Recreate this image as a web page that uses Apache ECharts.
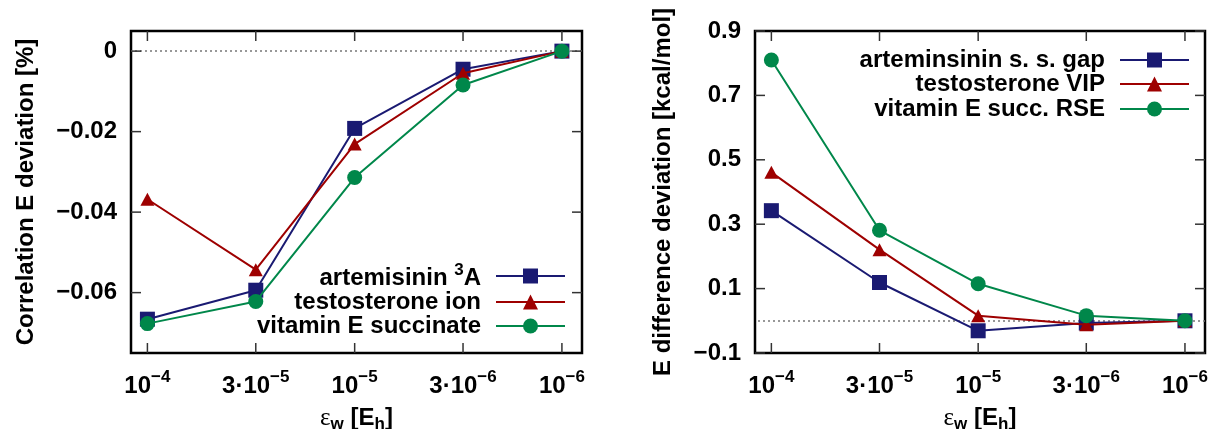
<!DOCTYPE html>
<html>
<head>
<meta charset="utf-8">
<script src="https://cdn.jsdelivr.net/npm/echarts@6/dist/echarts.min.js"></script>
<style>
html,body{margin:0;padding:0;background:#fff;}
#c{width:1209px;height:429px;}
</style>
</head>
<body>
<div id="c"></div>
<script>
// ---- data ----
const eps = [1e-4, 3e-5, 1e-5, 3e-6, 1e-6];
const xTickBase = ['10', '3\u00b710', '10', '3\u00b710', '10'];
const xTickExp = ['\u22124', '\u22125', '\u22125', '\u22126', '\u22126'];

const leftYTicks = [0, -0.02, -0.04, -0.06];
const leftYLabels = ['0', '\u22120.02', '\u22120.04', '\u22120.06'];
const rightYTicks = [-0.1, 0.1, 0.3, 0.5, 0.7, 0.9];
const rightYLabels = ['\u22120.1', '0.1', '0.3', '0.5', '0.7', '0.9'];

const leftNames = ['artemisinin 3A', 'testosterone ion', 'vitamin E succinate'];
const leftArtemisinin = [-0.0666, -0.0594, -0.0192, -0.0045, 0];
const leftTestosterone = [-0.0368, -0.0543, -0.0231, -0.0055, 0];
const leftVitamin = [-0.0677, -0.0622, -0.0314, -0.0084, 0];

const rightNames = ['arteminsinin s. s. gap', 'testosterone VIP', 'vitamin E succ. RSE'];
const rightArtemisinin = [0.342, 0.119, -0.031, -0.007, 0];
const rightTestosterone = [0.461, 0.221, 0.016, -0.012, 0];
const rightVitamin = [0.81, 0.281, 0.115, 0.016, 0];

const leftYTitle = 'Correlation E deviation [%]';
const rightYTitle = 'E difference deviation [kcal/mol]';

// ---- styling ----
const FONT = "'Liberation Sans', Arial, Helvetica, sans-serif";
const colors = ['#1a1a72', '#9e0000', '#00874a'];
const symbols = ['rect', 'triangle', 'circle'];
const symSizes = [15, [14, 13], 15];
const TICK_LEN = 10;
const TICK_STYLE = { stroke: '#333', lineWidth: 1.5 };

function xLabel(v) {
  const lv = Math.log10(v);
  for (let i = 0; i < eps.length; i++) {
    if (Math.abs(Math.log10(eps[i]) - lv) < 0.01) return '{b|' + xTickBase[i] + '}{s|' + xTickExp[i] + '}';
  }
  return '';
}
function yLabelFn(ticks, labels) {
  return function (v) {
    for (let i = 0; i < ticks.length; i++) if (Math.abs(ticks[i] - v) < 1e-9) return labels[i];
    return '';
  };
}

const xRich = {
  b: { fontFamily: FONT, fontWeight: 'bold', fontSize: 24, color: '#000', verticalAlign: 'bottom' },
  s: { fontFamily: FONT, fontWeight: 'bold', fontSize: 17, color: '#000', verticalAlign: 'bottom', padding: [0, 0, 12, 0] }
};
const titleRich = {
  e: { fontFamily: "'Liberation Serif', 'DejaVu Serif', serif", fontSize: 25, color: '#000', verticalAlign: 'top' },
  t: { fontFamily: FONT, fontWeight: 'bold', fontSize: 24, color: '#000', verticalAlign: 'top' },
  u: { fontFamily: FONT, fontWeight: 'bold', fontSize: 17, color: '#000', verticalAlign: 'top', padding: [10, 0, 0, 0] }
};
const xTitle = '{e|\u03b5}{u|w}{t| [E}{u|h}{t|]}';

function xAxis(grid) {
  return {
    type: 'log', gridIndex: grid, min: 8e-7, max: 1.2e-4, inverse: true, position: 'bottom',
    axisLine: { show: false, onZero: false }, splitLine: { show: false }, minorTick: { show: false },
    axisTick: { show: false },
    name: xTitle, nameLocation: 'middle', nameGap: 53,
    nameTextStyle: { rich: titleRich },
    axisLabel: { show: true, customValues: eps, margin: 16, formatter: xLabel, rich: xRich }
  };
}
function yAxis(grid, min, max, ticks, labels, title, gap) {
  return {
    type: 'value', gridIndex: grid, min: min, max: max, position: 'left',
    axisLine: { show: false, onZero: false }, splitLine: { show: false }, axisTick: { show: false },
    name: title, nameLocation: 'middle', nameGap: gap,
    nameTextStyle: { fontFamily: FONT, fontWeight: 'bold', fontSize: 24, color: '#000' },
    axisLabel: { show: true, customValues: ticks, margin: 14, formatter: yLabelFn(ticks, labels),
      fontFamily: FONT, fontWeight: 'bold', fontSize: 24, color: '#000' }
  };
}

// tick marks on all four frame sides, positioned via the axes' own coord()
function tickSeries(axisIdx, dir, values) {
  return {
    type: 'custom', xAxisIndex: axisIdx, yAxisIndex: axisIdx, silent: true, clip: false, z: 10,
    animation: false, tooltip: { show: false },
    data: dir === 'y' ? values.map(v => [eps[0], v]) : values.map(e => [e, 0]),
    renderItem: function (params, api) {
      const cs = params.coordSys;
      const p = api.coord([api.value(0), api.value(1)]);
      if (dir === 'y') {
        return { type: 'group', children: [
          { type: 'line', shape: { x1: cs.x, y1: p[1], x2: cs.x + TICK_LEN, y2: p[1] }, style: TICK_STYLE },
          { type: 'line', shape: { x1: cs.x + cs.width - TICK_LEN, y1: p[1], x2: cs.x + cs.width, y2: p[1] }, style: TICK_STYLE }
        ] };
      }
      return { type: 'group', children: [
        { type: 'line', shape: { x1: p[0], y1: cs.y + cs.height, x2: p[0], y2: cs.y + cs.height - TICK_LEN }, style: TICK_STYLE },
        { type: 'line', shape: { x1: p[0], y1: cs.y, x2: p[0], y2: cs.y + TICK_LEN }, style: TICK_STYLE }
      ] };
    }
  };
}

function mkSeries(name, vals, k, ai, withZero) {
  const s = {
    name: name, type: 'line', xAxisIndex: ai, yAxisIndex: ai,
    data: eps.map((e, i) => [e, vals[i]]),
    symbol: symbols[k], symbolSize: symSizes[k], showSymbol: true,
    lineStyle: { color: colors[k], width: 2 },
    itemStyle: { color: colors[k] },
    z: 3 + k, animation: false
  };
  if (withZero) {
    s.markLine = {
      silent: true, symbol: ['none', 'none'], label: { show: false },
      lineStyle: { type: [2, 3], color: '#777', width: 1.5 },
      data: [{ yAxis: 0 }], animation: false, z: 1
    };
  }
  return s;
}

const legendText = { fontFamily: FONT, fontWeight: 'bold', fontSize: 24, color: '#000', padding: [0, 10, 0, 0],
  rich: {
    n: { fontFamily: FONT, fontWeight: 'bold', fontSize: 24, color: '#000', verticalAlign: 'bottom' },
    p: { fontFamily: FONT, fontWeight: 'bold', fontSize: 17, color: '#000', verticalAlign: 'bottom', padding: [0, 0, 11, 0] }
  } };
function mkLegend(name, right, top, fmt) {
  return {
    data: [name], orient: 'vertical', align: 'right', right: right, top: top, padding: 0,
    itemWidth: 69, itemHeight: 18.75, selectedMode: false,
    textStyle: legendText,
    formatter: fmt || function (n) { return '{n|' + n + '}'; }
  };
}

const gridBase = { show: true, borderColor: '#000', borderWidth: 2.5, backgroundColor: 'transparent',
  containLabel: false, outerBoundsMode: 'none' };

const option = {
  backgroundColor: '#fff',
  animation: false,
  grid: [
    Object.assign({ left: 131, top: 31, width: 451, height: 322 }, gridBase),
    Object.assign({ left: 755, top: 31, width: 450, height: 322 }, gridBase)
  ],
  xAxis: [xAxis(0), xAxis(1)],
  yAxis: [
    yAxis(0, -0.075, 0.005, leftYTicks, leftYLabels, leftYTitle, 93),
    yAxis(1, -0.1, 0.9, rightYTicks, rightYLabels, rightYTitle, 80)
  ],
  legend: [
    mkLegend(leftNames[0], 643, 262, function () { return '{n|artemisinin }{p|3}{n|A}'; }),
    mkLegend(leftNames[1], 643, 290),
    mkLegend(leftNames[2], 643, 314),
    mkLegend(rightNames[0], 19, 48),
    mkLegend(rightNames[1], 19, 72),
    mkLegend(rightNames[2], 19, 97)
  ],
  series: [
    tickSeries(0, 'y', leftYTicks),
    tickSeries(0, 'x', eps),
    tickSeries(1, 'y', rightYTicks),
    tickSeries(1, 'x', eps),
    mkSeries(leftNames[0], leftArtemisinin, 0, 0, true),
    mkSeries(leftNames[1], leftTestosterone, 1, 0, false),
    mkSeries(leftNames[2], leftVitamin, 2, 0, false),
    mkSeries(rightNames[0], rightArtemisinin, 0, 1, true),
    mkSeries(rightNames[1], rightTestosterone, 1, 1, false),
    mkSeries(rightNames[2], rightVitamin, 2, 1, false)
  ]
};

const chart = echarts.init(document.getElementById('c'), null, { renderer: 'canvas' });
chart.setOption(option);
</script>
</body>
</html>
